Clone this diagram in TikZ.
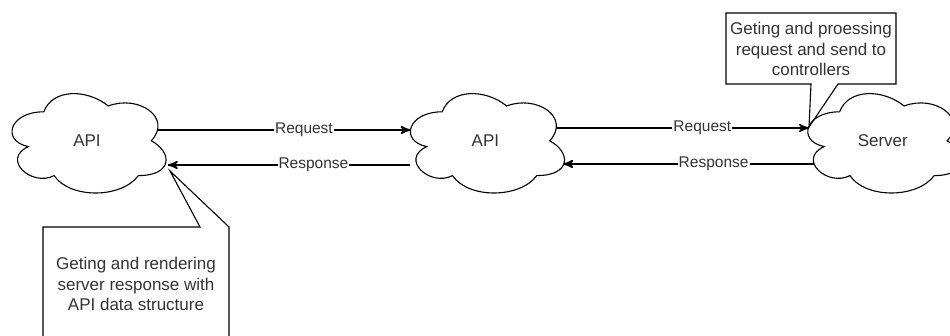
\documentclass[tikz,border=0pt]{standalone}
\usepackage{fontspec}
\setmainfont{Liberation Sans}
\usetikzlibrary{arrows}
\usetikzlibrary{decorations.markings}
\usetikzlibrary{positioning}
\tikzset{flow/.style = {line width=1.1pt, decoration={markings,
                                  mark=at position 1 with {\arrow[scale=1.6]{stealth'}}},
                      postaction={decorate}}}
\tikzset{cell/.style = {rectangle, inner sep=0, minimum width=172pt, minimum height=116pt,
                        font=\fontsize{17}{20.5}\selectfont, text=black!80}}
\tikzset{lbl/.style = {fill=white, inner sep=1pt, font=\fontsize{15.5}{18}\selectfont, text=black!80}}
\tikzset{note/.style = {align=center, inner sep=0, font=\fontsize{17}{20.5}\selectfont, text=black!80}}
\tikzset{outline/.style = {line width=1.1pt, line join=miter}}
\newcommand{\mxcloud}[1]{%
  \draw [outline, shift={(#1.north west)}, x=172pt, y=-116pt]
    (0.25,0.25) .. controls (0.05,0.25) and (0,0.5) .. (0.16,0.55)
    .. controls (0,0.66) and (0.18,0.9) .. (0.31,0.8)
    .. controls (0.4,1) and (0.7,1) .. (0.8,0.8)
    .. controls (1,0.8) and (1,0.6) .. (0.875,0.5)
    .. controls (1,0.3) and (0.8,0.1) .. (0.625,0.2)
    .. controls (0.5,0.05) and (0.3,0.05) .. (0.25,0.25) -- cycle;}
\begin{document}
\begin{tikzpicture}[x=1pt, y=-1pt]
    \useasboundingbox (0,0) rectangle (950,336);
    \node [cell] (api1) at (87,141) {API};
    \node [cell, right=226pt of api1] (api2) {API};
    \node [cell, right=225pt of api2] (server) {Server};
    \mxcloud{api1}
    \mxcloud{api2}
    \mxcloud{server}
    \draw [flow] ([shift={(-16,-11)}]api1.east) -- node [lbl, pos=0.58] {Request} ([shift={(11,-11)}]api2.west);
    \draw [flow] ([shift={(11,24)}]api2.west) -- node [lbl, pos=0.40] {Response} ([shift={(-5,24)}]api1.east);
    \draw [flow] ([shift={(-16,-13)}]api2.east) -- node [lbl, pos=0.58] {Request} ([shift={(12,-13)}]server.west);
    \draw [flow] ([shift={(17,23)}]server.west) -- node [lbl, pos=0.40] {Response} ([shift={(-8,23)}]api2.east);
    \draw [outline] (811,84) -- (726,84) -- (726,13) -- (896,13) -- (896,84) -- (838,84) -- (809,127) -- cycle;
    \node [note] (procnote) at (811,49) {Geting and proessing\\request and send to\\controllers};
    \draw [outline] (43,336) -- (43,227) -- (200,227) -- (170,171) -- (229,227) -- (229,336);
    \node [note] (rendernote) at (136,284) {Geting and rendering\\server response with\\API data structure};
\end{tikzpicture}
\end{document}
